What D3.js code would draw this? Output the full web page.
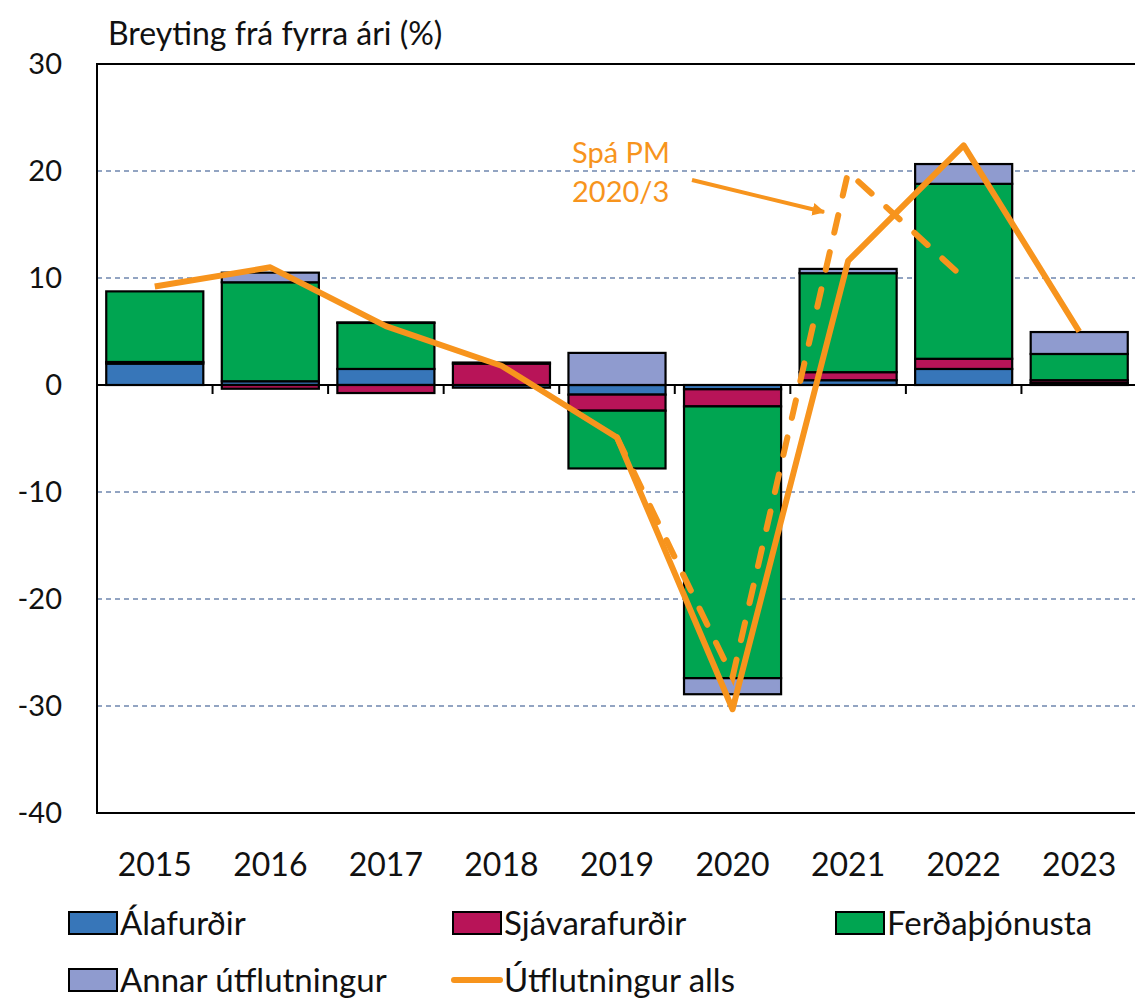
<!DOCTYPE html>
<html>
<head>
<meta charset="utf-8">
<script src="https://cdn.jsdelivr.net/npm/d3@7"></script>
<style>
  body { margin: 0; background: #fff; }
  svg { display: block; font-family: Lato, "Open Sans", sans-serif; }
</style>
</head>
<body>
<svg width="1135" height="1002"></svg>
<script>
const years = ["2015", "2016", "2017", "2018", "2019", "2020", "2021", "2022", "2023"];

// contributions to export growth (%)
const alafurdir     = [2.0, 0.35, 1.5, -0.25, -0.9, -0.4, 0.45, 1.5, 0.2];
const sjavarafurdir = [0.15, -0.35, -0.75, 2.0, -1.5, -1.6, 0.75, 0.95, 0.25];
const ferdathjon    = [6.6, 9.25, 4.3, 0.1, -5.4, -25.4, 9.25, 16.35, 2.45];
const annar         = [0.0, 0.9, 0.05, 0.0, 3.0, -1.5, 0.4, 1.85, 2.05];
const utflAlls      = [9.2, 11.0, 5.5, 1.8, -4.9, -30.3, 11.6, 22.4, 5.0];

// forecast from PM 2020/3
const spaYears  = ["2019", "2020", "2021", "2022"];
const spaValues = [-4.9, -27.3, 19.9, 10.0];

const yTicks = [30, 20, 10, 0, -10, -20, -30, -40];

const seriesNames = ["Álafurðir", "Sjávarafurðir", "Ferðaþjónusta", "Annar útflutningur"];
const seriesData = [alafurdir, sjavarafurdir, ferdathjon, annar];
const colors = ["#3776B9", "#B81458", "#00A551", "#8F9BCF"];
const orange = "#F7941D";

const svg = d3.select("svg");

const plotL = 97, plotR = 1137, plotT = 64, plotB = 813;

const x = d3.scaleBand()
  .domain(years)
  .range([plotL, plotR])
  .paddingInner(0.16)
  .paddingOuter(0.08);

const y = d3.scaleLinear()
  .domain([-40, 30])
  .range([plotB, plotT]);

// rows for stacking
const rows = years.map((yr, i) => {
  const r = { year: yr };
  seriesNames.forEach((s, j) => r[s] = seriesData[j][i]);
  return r;
});

const stacked = d3.stack()
  .keys(seriesNames)
  .offset(d3.stackOffsetDiverging)(rows);

// gridlines
svg.append("g")
  .selectAll("line")
  .data(yTicks.filter(t => t !== 0 && t !== 30 && t !== -40))
  .join("line")
  .attr("x1", plotL)
  .attr("x2", plotR)
  .attr("y1", d => y(d))
  .attr("y2", d => y(d))
  .attr("stroke", "#6F87AE")
  .attr("stroke-width", 1.3)
  .attr("stroke-dasharray", "5,4");

// bars
svg.append("g")
  .selectAll("g")
  .data(stacked)
  .join("g")
  .attr("fill", (d, i) => colors[i])
  .selectAll("rect")
  .data(d => d.filter(p => Math.abs(p[1] - p[0]) > 0.001))
  .join("rect")
  .attr("x", d => x(d.data.year))
  .attr("width", x.bandwidth())
  .attr("y", d => y(Math.max(d[0], d[1])))
  .attr("height", d => Math.abs(y(d[0]) - y(d[1])))
  .attr("stroke", "#000")
  .attr("stroke-width", 2.2);

// plot frame
svg.append("path")
  .attr("d", `M${plotR},${plotT}H${plotL}V${plotB}H${plotR}`)
  .attr("fill", "none")
  .attr("stroke", "#000")
  .attr("stroke-width", 2);

// zero axis with ticks between categories
const zero = svg.append("g");
zero.append("line")
  .attr("x1", plotL).attr("x2", plotR)
  .attr("y1", y(0)).attr("y2", y(0))
  .attr("stroke", "#000").attr("stroke-width", 2);
zero.selectAll("line.tick")
  .data(years.slice(1))
  .join("line")
  .attr("class", "tick")
  .attr("x1", d => x(d) - x.step() * x.paddingInner() / 2)
  .attr("x2", d => x(d) - x.step() * x.paddingInner() / 2)
  .attr("y1", y(0))
  .attr("y2", y(0) + 9)
  .attr("stroke", "#000").attr("stroke-width", 2);

// y labels
svg.append("g")
  .selectAll("text")
  .data(yTicks)
  .join("text")
  .attr("x", 62)
  .attr("y", d => y(d))
  .attr("dy", "0.36em")
  .attr("text-anchor", "end")
  .attr("font-size", 29)
  .attr("fill", "#111")
  .text(d => d);

// x labels
svg.append("g")
  .selectAll("text")
  .data(years)
  .join("text")
  .attr("x", d => x(d) + x.bandwidth() / 2)
  .attr("y", 876)
  .attr("text-anchor", "middle")
  .attr("font-size", 32)
  .attr("fill", "#111")
  .text(d => d);

// title
svg.append("text")
  .attr("x", 108)
  .attr("y", 45)
  .attr("font-size", 32)
  .attr("fill", "#111")
  .text("Breyting frá fyrra ári (%)");

// total line
const line = d3.line()
  .x(d => x(d[0]) + x.bandwidth() / 2)
  .y(d => y(d[1]));

svg.append("path")
  .datum(years.map((yr, i) => [yr, utflAlls[i]]))
  .attr("d", line)
  .attr("fill", "none")
  .attr("stroke", orange)
  .attr("stroke-width", 6)
  .attr("stroke-linejoin", "round");

// forecast dashed line
svg.append("path")
  .datum(spaYears.map((yr, i) => [yr, spaValues[i]]))
  .attr("d", line)
  .attr("fill", "none")
  .attr("stroke", orange)
  .attr("stroke-width", 6)
  .attr("stroke-linecap", "round")
  .attr("stroke-dasharray", "18,20");

// annotation
const ann = svg.append("g").attr("fill", orange).attr("font-size", 29);
ann.append("text").attr("x", 572).attr("y", 163).text("Spá PM");
ann.append("text").attr("x", 572).attr("y", 202).text("2020/3");

svg.append("defs").append("marker")
  .attr("id", "arrow")
  .attr("viewBox", "0 0 10 10")
  .attr("refX", 9).attr("refY", 5)
  .attr("markerWidth", 3.2).attr("markerHeight", 3.2)
  .attr("orient", "auto")
  .append("path")
  .attr("d", "M0,0L10,5L0,10z")
  .attr("fill", orange);

svg.append("line")
  .attr("x1", 692).attr("y1", 180)
  .attr("x2", 824).attr("y2", 212)
  .attr("stroke", orange)
  .attr("stroke-width", 4)
  .attr("marker-end", "url(#arrow)");

// legend
const legendItems = [
  { name: "Álafurðir", color: colors[0], type: "rect", x: 68, y: 923 },
  { name: "Sjávarafurðir", color: colors[1], type: "rect", x: 452, y: 923 },
  { name: "Ferðaþjónusta", color: colors[2], type: "rect", x: 835, y: 923 },
  { name: "Annar útflutningur", color: colors[3], type: "rect", x: 68, y: 980 },
  { name: "Útflutningur alls", color: orange, type: "line", x: 452, y: 980 }
];

const lg = svg.append("g")
  .selectAll("g")
  .data(legendItems)
  .join("g")
  .attr("transform", d => `translate(${d.x},${d.y})`);

lg.filter(d => d.type === "rect")
  .append("rect")
  .attr("x", 1).attr("y", -11)
  .attr("width", 48).attr("height", 22)
  .attr("fill", d => d.color)
  .attr("stroke", "#000")
  .attr("stroke-width", 2);

lg.filter(d => d.type === "line")
  .append("line")
  .attr("x1", 2).attr("x2", 48)
  .attr("y1", 0).attr("y2", 0)
  .attr("stroke", d => d.color)
  .attr("stroke-width", 6)
  .attr("stroke-linecap", "round");

lg.append("text")
  .attr("x", 52)
  .attr("y", 0)
  .attr("dy", "0.36em")
  .attr("font-size", 33)
  .attr("fill", "#111")
  .text(d => d.name);
</script>
</body>
</html>
